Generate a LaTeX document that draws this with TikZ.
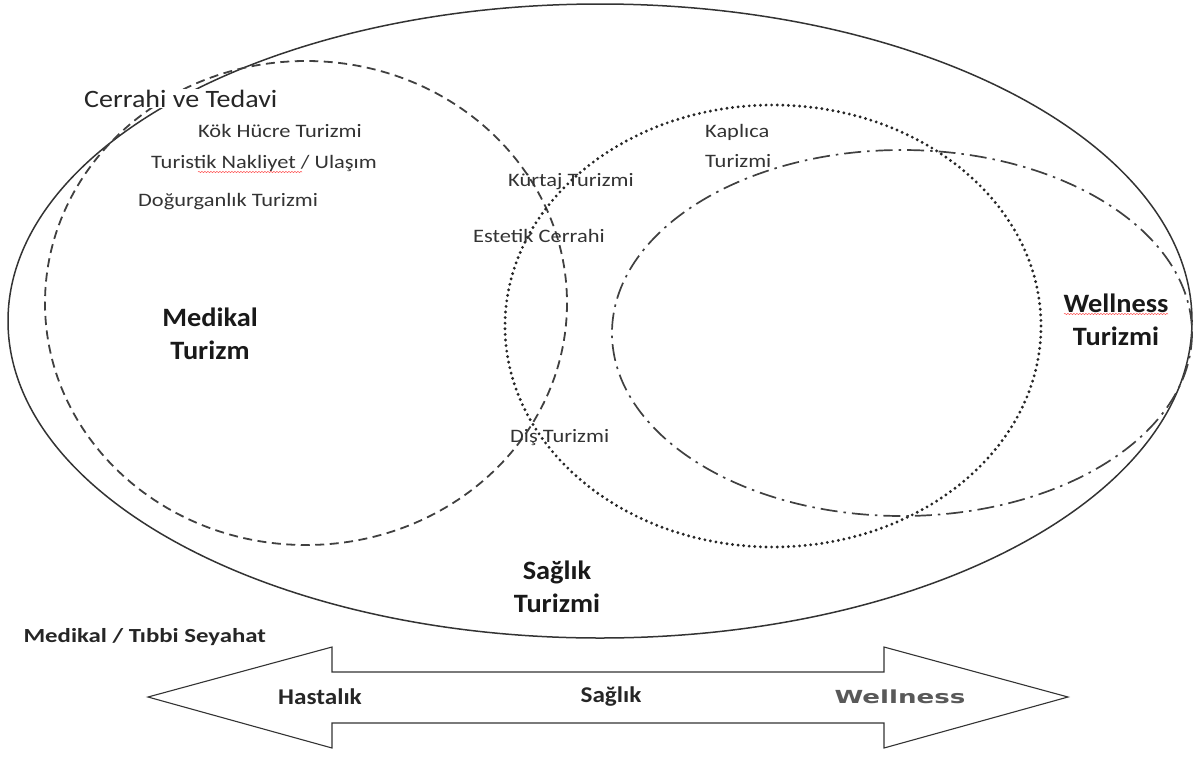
\documentclass[tikz,border=0pt]{standalone}
\usepackage{fontspec}
\setmainfont{Carlito}
\newfontfamily\widecal[FakeStretch=1.18]{Carlito}
\newfontfamily\titlecal[FakeStretch=1.07]{Carlito}
\newfontfamily\scalecal[FakeStretch=1.12]{Carlito}
\newfontfamily\seyahatcal[FakeStretch=1.24]{Carlito}
\newfontfamily\widesans[FakeStretch=1.45]{DejaVu Sans}
\usetikzlibrary{positioning,decorations.pathmorphing}

\begin{document}
\begin{tikzpicture}[x=1pt, y=-1pt,
  small/.style={font=\widecal\fontsize{19}{22}\selectfont, inner sep=0pt, text=black!80},
  title/.style={font=\titlecal\fontsize{26.5}{33}\selectfont\bfseries, align=center, text=black!90},
  mid/.style={font=\scalecal\fontsize{22.5}{26}\selectfont\bfseries, text=black!85},
  spell/.style={red!70, line width=0.5pt, decorate, decoration={snake, amplitude=0.6pt, segment length=3pt}}]
  \useasboundingbox (0,0) rectangle (1195,756);
  % the four areas
  \draw[line width=1.5pt, black!80] (600,321) ellipse [x radius=592, y radius=317];
  \draw[line width=1.8pt, black!75, dash pattern=on 9pt off 5.5pt] (306,303) ellipse [x radius=261, y radius=242];
  \draw[line width=3.2pt, black!85, line cap=round, dash pattern=on 0pt off 5.6pt] (773,326) ellipse [x radius=268, y radius=221];
  \draw[line width=1.7pt, black!75, dash pattern=on 17pt off 6pt on 2.5pt off 6pt] (902,333) ellipse [x radius=290, y radius=183];
  % inner labels
  \node[anchor=base west, fill=white, inner sep=1pt, text=black!85, font=\scalecal\fontsize{25}{28}\selectfont] (cerrahi) at (83,107) {Cerrahi ve Tedavi};
  \node[small, anchor=base west] (kok) at (198,137) {Kök Hücre Turizmi};
  \node[small, anchor=base west] (nakliyet) at (151,168) {Turistik Nakliyet / Ulaşım};
  \node[small, anchor=base west] (dogurganlik) at (138,206) {Doğurganlık Turizmi};
  \node[small, anchor=base west] (kurtaj) at (508,186) {Kürtaj Turizmi};
  \node[small, anchor=base west] (estetik) at (473,242) {Estetik Cerrahi};
  \node[small, anchor=base west] (dis) at (510,442) {Diş Turizmi};
  \node[small, anchor=base west] (kaplica) at (705,137) {Kaplıca};
  \node[small, anchor=base west] (kaplicat) at (705,167) {Turizmi};
  \node[title] (medikal) at (210,334) {Medikal\\Turizm};
  \node[title] (wellness) at (1116,320) {Wellness\\Turizmi};
  \node[title] (saglikt) at (557,587) {Sağlık\\Turizmi};
  \node[anchor=west, font=\seyahatcal\fontsize{20}{24}\selectfont\bfseries, text=black!85] (seyahat) at (20,637) {Medikal / Tıbbi Seyahat};
  % spell check marks
  \draw[spell] (198,172) -- (302,172);
  \draw[spell] (1064,314) -- (1168,314);
  % scale arrow
  \draw[line width=1.1pt, black!80, line join=miter]
    (148,697) -- (332,647) -- (332,672) -- (884,672) -- (884,647) -- (1068,697)
    -- (884,748) -- (884,723) -- (332,723) -- (332,748) -- cycle;
  \node[mid] (hastalik) at (320,697) {Hastalık};
  \node[mid] (saglik) at (611,697) {Sağlık};
  \node[font=\widesans\bfseries\fontsize{18}{22}\selectfont, text=black!65] (wellscale) at (900,697) {Wellness};
\end{tikzpicture}
\end{document}
